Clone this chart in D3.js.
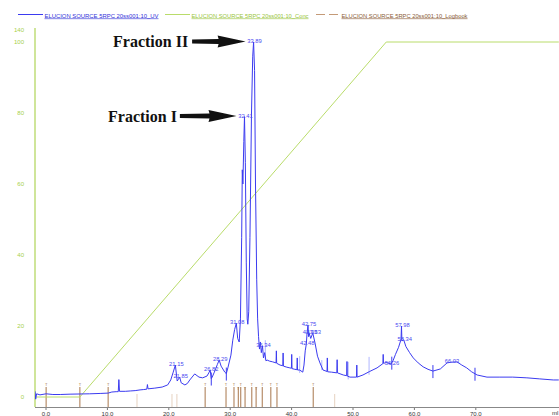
<!DOCTYPE html>
<html lang="en">
<head>
<meta charset="UTF-8">
<title>Elucion Source 5RPC</title>
<script src="https://cdn.jsdelivr.net/npm/d3@7"></script>
<style>
    html, body { margin: 0; padding: 0; background: #fff; }
    svg { display: block; font-family: "Liberation Sans", Arial, sans-serif; }
</style>
</head>
<body>
<div id="chart"></div>
<script>
    // UV trace [ml, mAU %]
    const uvTrace = [
        [-1.7, 1.6], [-1.6, -0.6], [-1.45, 0.9], [-0.9, 0.6], [0.1, 0.9], [1.2, 0.7], [2.4, 0.7], [4.0, 0.8],
        [5.6, 0.85], [7.2, 0.9], [8.9, 1.0], [10.2, 1.1], [10.8, 1.4], [11.5, 1.5], [11.85, 1.5], [11.95, 4.9],
        [12.05, 1.6], [13.0, 1.6], [13.8, 1.7], [14.6, 1.8], [15.4, 2.0], [16.0, 2.1], [16.5, 2.2], [16.6, 3.5],
        [16.7, 2.3], [17.8, 2.5], [19.0, 2.8], [19.9, 3.4], [20.4, 4.8], [20.8, 7.0], [21.15, 9.0], [21.45, 4.5],
        [21.65, 5.0], [21.85, 5.6], [22.1, 4.0], [22.7, 3.4], [23.1, 3.8], [23.5, 4.8], [24.3, 6.5], [25.0, 5.6],
        [25.6, 5.4], [26.3, 5.9], [26.6, 6.8], [26.82, 7.6], [27.0, 5.2], [27.15, 5.6], [27.5, 7.0], [28.0, 9.2],
        [28.29, 10.4], [28.6, 8.7], [29.2, 7.0], [29.45, 6.6], [29.7, 8.2], [30.2, 11.8], [30.5, 16], [30.8, 19],
        [31.08, 20.8], [31.3, 16.5], [31.55, 15.5], [31.75, 22], [31.95, 45], [32.05, 64], [32.15, 60], [32.3, 72],
        [32.41, 79], [32.55, 66], [32.7, 38], [32.85, 22], [32.95, 20.5], [33.1, 24], [33.3, 45], [33.55, 80],
        [33.75, 96], [33.89, 100], [34.05, 92], [34.2, 60], [34.4, 33], [34.55, 22], [34.7, 17], [34.85, 13.5],
        [35.0, 15.5], [35.15, 12.5], [35.34, 14.4], [35.5, 11], [35.7, 12.5], [35.9, 10.2], [36.1, 10.4], [36.5, 10.1],
        [37.0, 9.9], [37.55, 9.6], [37.6, 13.0], [37.65, 9.5], [38.2, 9.0], [38.65, 8.8], [38.7, 12.4], [38.75, 8.7],
        [39.3, 8.4], [39.8, 8.2], [40.05, 8.1], [40.1, 12.0], [40.15, 8.0], [40.6, 7.8], [40.95, 7.7], [41.0, 11.0],
        [41.05, 7.6], [41.4, 7.6], [41.9, 7.0], [42.1, 9.0], [42.3, 13], [42.48, 14.9], [42.6, 18], [42.75, 20.3],
        [42.85, 17], [42.93, 18.0], [43.2, 16.5], [43.53, 18.0], [43.9, 15.2], [44.3, 11.5], [44.7, 9.6], [45.2, 7.6],
        [45.85, 7.2], [45.9, 11.0], [45.95, 7.1], [46.6, 7.0], [47.45, 6.8], [47.5, 10.5], [47.55, 6.8], [48.5, 6.2],
        [49.05, 6.0], [49.1, 10.0], [49.15, 5.9], [49.6, 5.6], [50.65, 5.6], [50.7, 9.0], [50.75, 5.6], [51.7, 6.2],
        [52.8, 7.2], [54.0, 8.2], [54.95, 9.4], [55.0, 12.0], [55.05, 9.5], [55.6, 9.7], [56.26, 9.3], [56.6, 10.2],
        [57.0, 12.0], [57.5, 14.0], [57.9, 16.2], [57.98, 20.0], [58.05, 15.8], [58.34, 16.1], [58.7, 14.2], [59.3, 12.5],
        [59.9, 11.0], [60.7, 9.6], [61.5, 8.5], [62.3, 7.8], [63.1, 7.3], [64.3, 7.9], [65.4, 9.6], [66.03, 9.8],
        [67.0, 9.9], [67.8, 9.0], [68.6, 8.2], [69.4, 7.1], [70.3, 6.2], [71.9, 5.6], [74.0, 5.6], [76.1, 5.6],
        [78.4, 5.4], [80.5, 5.1], [82.7, 4.8], [83.6, 4.8]
    ];

    // gradient (% B)
    const concMl = [-1.7, 5.6, 55.5, 83.6];
    const concPct = [0, 0, 100, 100];

    // labelled peaks [ml, height]
    const peaks = [
        [21.15, 9.0], [21.85, 5.6], [26.82, 7.6], [28.29, 10.4], [31.08, 20.8], [32.41, 79], [33.89, 100],
        [35.34, 14.4], [42.48, 14.9], [42.75, 20.3], [42.93, 18.0], [43.53, 18.0], [56.26, 9.3], [57.98, 20.0],
        [58.34, 16.1], [66.03, 9.8]
    ];

    // peak limit ticks and pale spikes
    const peakTicks = [27.0, 29.45, 56.4, 63.1, 69.95];
    const paleSpikes = [[35.8, 16], [41.4, 11.5], [45.0, 10.4], [49.3, 9.9], [52.7, 11.3]];

    // logbook events (ml)
    const logbookMl = [0.1, 5.6, 10.2, 26.0, 29.4, 30.7, 31.4, 31.8, 32.5, 33.6, 34.3, 35.3, 36.7, 37.7, 43.6];
    const logbookFaintMl = [14.9, 20.6, 21.4, 47.1];

    const xTicks = [0, 10, 20, 30, 40, 50, 60, 70];
    const yTicks = [0, 20, 40, 60, 80, 100];
    const yTopValue = 103.4;
    const yTopLabel = '140';

    const legendItems = [
        { name: 'ELUCION SOURCE 5RPC 20ss001:10_UV', color: '#3b3bf0', text: '#3030d8', x0: 18, x1: 43, len: 114, dash: null },
        { name: 'ELUCION SOURCE 5RPC 20ss001:10_Conc', color: '#b9dc6a', text: '#98c43a', x0: 165, x1: 190, len: 117, dash: null },
        { name: 'ELUCION SOURCE 5RPC 20ss001:10_Logbook', color: '#c49a78', text: '#8a5a36', x0: 316, x1: 340, len: 126, dash: '9,4' }
    ];

    const fractions = [
        { label: 'Fraction II', ml: 33.89, au: 100, textX: 113, gap: 4 },
        { label: 'Fraction I', ml: 32.41, au: 79, textX: 108, gap: 3 }
    ];

    const width = 559, height = 416;
    const svg = d3.select('#chart').append('svg')
        .attr('width', width)
        .attr('height', height);

    const x = d3.scaleLinear().domain([0, 70]).range([45.5, 475.3]);
    const y = d3.scaleLinear().domain([0, 100]).range([397, 42]);

    const plotLeft = 35, plotRight = 559, plotBottom = 407;

    svg.append('defs').append('clipPath')
        .attr('id', 'plot-clip')
        .append('rect')
        .attr('x', plotLeft)
        .attr('y', y(yTopValue))
        .attr('width', plotRight - plotLeft)
        .attr('height', plotBottom - y(yTopValue));

    // Legend
    const legend = svg.append('g').attr('class', 'legend');
    legendItems.forEach((d) => {
        legend.append('line')
            .attr('x1', d.x0).attr('x2', d.x1)
            .attr('y1', 14.5).attr('y2', 14.5)
            .attr('stroke', d.color)
            .attr('stroke-width', 1)
            .attr('stroke-dasharray', d.dash);
        legend.append('text')
            .attr('x', d.x1 + 1.5)
            .attr('y', 17.5)
            .attr('font-size', 6)
            .attr('fill', d.text)
            .attr('text-decoration', 'underline')
            .attr('textLength', d.len)
            .attr('lengthAdjust', 'spacingAndGlyphs')
            .text(d.name);
    });

    // X axis
    const xAxis = svg.append('g')
        .attr('transform', `translate(0,${plotBottom})`)
        .call(d3.axisBottom(x).tickValues(xTicks).tickSize(3).tickPadding(2).tickFormat(d => d.toFixed(1)));
    xAxis.select('.domain').remove();
    xAxis.selectAll('line').attr('stroke', '#777');
    xAxis.selectAll('text').attr('font-size', 6).attr('fill', '#333').attr('font-family', '"Liberation Sans", Arial, sans-serif');
    svg.append('line')
        .attr('x1', plotLeft).attr('x2', plotRight)
        .attr('y1', plotBottom + 0.5).attr('y2', plotBottom + 0.5)
        .attr('stroke', '#888').attr('stroke-width', 1);
    svg.append('text')
        .attr('x', 552).attr('y', 415)
        .attr('font-size', 6).attr('fill', '#333')
        .text('ml');

    // Y axis (conc colour)
    const yAxis = svg.append('g')
        .attr('transform', `translate(${plotLeft},0)`)
        .call(d3.axisLeft(y).tickValues(yTicks).tickSize(0).tickPadding(11));
    yAxis.select('.domain').remove();
    yAxis.selectAll('text').attr('font-size', 6).attr('fill', '#a6d04c').attr('font-family', '"Liberation Sans", Arial, sans-serif');
    svg.append('text')
        .attr('x', plotLeft - 11).attr('y', y(yTopValue))
        .attr('dy', '0.32em')
        .attr('text-anchor', 'end')
        .attr('font-size', 6).attr('fill', '#a6d04c')
        .text(yTopLabel);
    svg.append('line')
        .attr('x1', plotLeft).attr('x2', plotLeft)
        .attr('y1', y(yTopValue) - 2).attr('y2', plotBottom)
        .attr('stroke', '#cfe59a').attr('stroke-width', 2);

    const plot = svg.append('g').attr('clip-path', 'url(#plot-clip)');

    // Logbook markers
    plot.selectAll('line.log-faint')
        .data(logbookFaintMl)
        .join('line')
        .attr('class', 'log-faint')
        .attr('x1', d => x(d)).attr('x2', d => x(d))
        .attr('y1', 394).attr('y2', plotBottom)
        .attr('stroke', '#e6d2c0').attr('stroke-width', 1);
    plot.selectAll('line.log')
        .data(logbookMl)
        .join('line')
        .attr('class', 'log')
        .attr('x1', d => x(d)).attr('x2', d => x(d))
        .attr('y1', 387).attr('y2', plotBottom)
        .attr('stroke', '#a8764c').attr('stroke-width', 1);
    plot.selectAll('text.log')
        .data(logbookMl)
        .join('text')
        .attr('class', 'log')
        .attr('x', d => x(d))
        .attr('y', (d, i) => (i > 4 && i < 12 && i % 2 === 0) ? 390 : 386)
        .attr('text-anchor', 'middle')
        .attr('font-size', 4)
        .attr('fill', '#a8764c')
        .text('T');

    // Conc line
    const concLine = d3.line().x(d => x(d[0])).y(d => y(d[1]));
    plot.append('path')
        .datum(concMl.map((m, i) => [m, concPct[i]]))
        .attr('d', concLine)
        .attr('fill', 'none')
        .attr('stroke', '#b9dc6a')
        .attr('stroke-width', 1);

    // UV trace
    const traceAt = (m) => {
        const i = d3.bisector(d => d[0]).left(uvTrace, m);
        const a = uvTrace[Math.max(0, i - 1)], b = uvTrace[Math.min(uvTrace.length - 1, i)];
        if (a === b) return a[1];
        return a[1] + (b[1] - a[1]) * (m - a[0]) / (b[0] - a[0]);
    };

    plot.selectAll('line.pale')
        .data(paleSpikes)
        .join('line')
        .attr('class', 'pale')
        .attr('x1', d => x(d[0])).attr('x2', d => x(d[0]))
        .attr('y1', d => y(d[1])).attr('y2', d => y(traceAt(d[0])) + 3)
        .attr('stroke', '#b0b6ff').attr('stroke-width', 1);

    plot.append('path')
        .datum(uvTrace)
        .attr('d', d3.line().x(d => x(d[0])).y(d => y(d[1])))
        .attr('fill', 'none')
        .attr('stroke', '#3b3bf0')
        .attr('stroke-width', 1)
        .attr('stroke-linejoin', 'round');

    plot.selectAll('line.ptick')
        .data(peakTicks)
        .join('line')
        .attr('class', 'ptick')
        .attr('x1', d => x(d)).attr('x2', d => x(d))
        .attr('y1', d => y(traceAt(d)) - 6).attr('y2', d => y(traceAt(d)) + 7)
        .attr('stroke', '#3b3bf0').attr('stroke-width', 1);

    // Peak labels
    plot.selectAll('text.peak')
        .data(peaks)
        .join('text')
        .attr('class', 'peak')
        .attr('x', d => x(d[0]) + 1)
        .attr('y', d => y(d[1]) + 1)
        .attr('text-anchor', 'middle')
        .attr('font-size', 5.8)
        .attr('fill', '#4a4af0')
        .text(d => d[0].toFixed(2));

    // Fraction annotations with arrows
    const ann = svg.append('g');
    fractions.forEach((f) => {
        const tipX = x(f.ml) - 8;
        const tipY = y(f.au) - 0.5;
        const label = ann.append('text')
            .attr('x', f.textX)
            .attr('y', tipY + 5.5)
            .attr('font-family', '"Liberation Serif", "Times New Roman", serif')
            .attr('font-weight', 'bold')
            .attr('font-size', 16)
            .attr('fill', '#111')
            .text(f.label);
        const tailX = label.node().getComputedTextLength() + f.textX + f.gap;
        const headX = tipX - 27;
        ann.append('path')
            .attr('d', `M${tailX},${tipY - 2} L${headX},${tipY - 2.5} L${headX - 1},${tipY - 6} L${tipX},${tipY}
                        L${headX - 1},${tipY + 6} L${headX},${tipY + 2.5} L${tailX},${tipY + 2} Z`)
            .attr('fill', '#111');
    });
</script>
</body>
</html>
